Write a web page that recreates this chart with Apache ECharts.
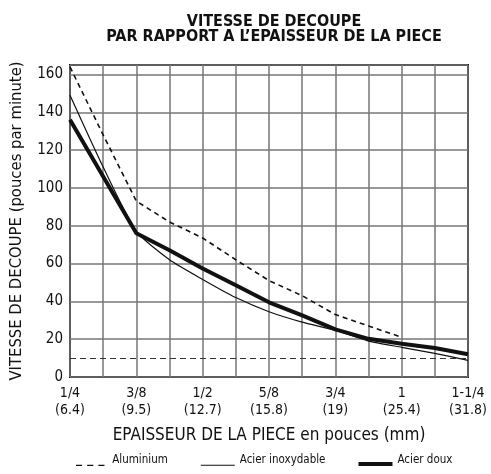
<!DOCTYPE html>
<html>
<head>
<meta charset="utf-8">
<script src="https://cdn.jsdelivr.net/npm/echarts@6/dist/echarts.min.js"></script>
<style>html,body{margin:0;padding:0;background:#fff}#c{width:491px;height:474px}</style>
</head>
<body>
<div id="c"></div>
<script>
// 13 grid positions; labels on every other one
const inchLabels = ['1/4', '', '3/8', '', '1/2', '', '5/8', '', '3/4', '', '1', '', '1-1/4'];
const mmLabels   = ['6.4', '', '9.5', '', '12.7', '', '15.8', '', '19', '', '25.4', '', '31.8'];
const yTicks = [0, 20, 40, 60, 80, 100, 120, 140, 160];

const aluminium = [164, 128, 93, 82, 73.5, 62, 51, 43, 33, 27, 21, null, null];
const inox      = [149, 111, 77, 62, 51.6, 42, 34.5, 29, 24.7, 19, 15.7, 12.5, 8.8];
const doux      = [136, 106, 76, 67, 57.4, 48.5, 39.5, 32.6, 25.2, 20.2, 17.6, 15.3, 12];
const refLine = 10;

const FONT = "'Liberation Sans Narrow', 'DejaVu Sans Condensed', sans-serif";
const chart = echarts.init(document.getElementById('c'), null, {renderer: 'canvas'});
const cats = inchLabels.map((l, i) => i);

const DOT = 'M0,0h0.01v0.01h-0.01z ';
const iconDash  = 'path://' + DOT + 'M0,10.5h6v1.3h-6z M11,10.5h6v1.3h-6z M22,10.5h6v1.3h-6z';
const iconThin  = 'path://' + DOT + 'M0,10.6h34v1.1h-34z';
const iconThick = 'path://' + DOT + 'M0,8h34v4h-34z';

chart.setOption({
  animation: false,
  backgroundColor: '#fff',
  textStyle: {fontFamily: FONT, color: '#111'},
  title: {
    text: 'VITESSE DE DECOUPE\nPAR RAPPORT A L\u2019EPAISSEUR DE LA PIECE',
    left: 269, textAlign: 'center', top: 9,
    textStyle: {fontFamily: FONT, fontWeight: 'bold', fontSize: 16, lineHeight: 15, color: '#111'}
  },
  grid: {left: 70, right: 23, top: 65, bottom: 97, show: true, borderColor: '#111', borderWidth: 2, containLabel: false},
  legend: {
    bottom: 3, left: 71, itemHeight: 12, itemGap: 33,
    textStyle: {fontFamily: FONT, fontSize: 11.5, color: '#111', padding: [0, 0, 4, 0]},
    data: [
      {name: 'Aluminium', icon: iconDash, itemWidth: 28},
      {name: 'Acier inoxydable', icon: iconThin},
      {name: 'Acier doux', icon: iconThick}
    ],
    itemWidth: 34
  },
  xAxis: {
    type: 'category', data: cats, boundaryGap: false,
    axisLine: {show: false}, axisTick: {show: false},
    splitLine: {show: true, interval: 0, lineStyle: {color: '#777', width: 1.5}},
    axisLabel: {
      interval: 0, margin: 8, fontSize: 14, lineHeight: 17, color: '#111', fontFamily: FONT,
      formatter: (v, i) => inchLabels[i] ? inchLabels[i] + '\n(' + mmLabels[i] + ')' : ''
    },
    name: 'EPAISSEUR DE LA PIECE en pouces (mm)', nameLocation: 'middle', nameGap: 50,
    nameTextStyle: {fontSize: 17, color: '#111', fontFamily: FONT}
  },
  yAxis: {
    type: 'value', min: 0, max: 165, interval: 20,
    axisLine: {show: false}, axisTick: {show: false},
    splitLine: {show: true, lineStyle: {color: '#777', width: 1.5}},
    axisLabel: {fontSize: 15, color: '#111', margin: 7, fontFamily: FONT, showMaxLabel: false,
      formatter: v => yTicks.includes(v) ? String(v) : ''},
    name: 'VITESSE DE DECOUPE (pouces par minute)', nameLocation: 'middle', nameGap: 45,
    nameTextStyle: {fontSize: 16.5, color: '#111', fontFamily: FONT}
  },
  series: [
    {name: 'Aluminium', type: 'line', data: aluminium, showSymbol: false, symbol: 'none',
      lineStyle: {color: '#111', width: 1.6, type: [5, 4]}, itemStyle: {color: '#111'},
      markLine: {symbol: 'none', silent: true, label: {show: false},
        lineStyle: {color: '#333', width: 1, type: [6, 4]}, data: [{yAxis: refLine}]}},
    {name: 'Acier inoxydable', type: 'line', data: inox, showSymbol: false, symbol: 'none', smooth: 0.2,
      lineStyle: {color: '#111', width: 1.2}, itemStyle: {color: '#111'}},
    {name: 'Acier doux', type: 'line', data: doux, showSymbol: false, symbol: 'none',
      lineStyle: {color: '#111', width: 4}, itemStyle: {color: '#111'}}
  ]
});
</script>
</body>
</html>
